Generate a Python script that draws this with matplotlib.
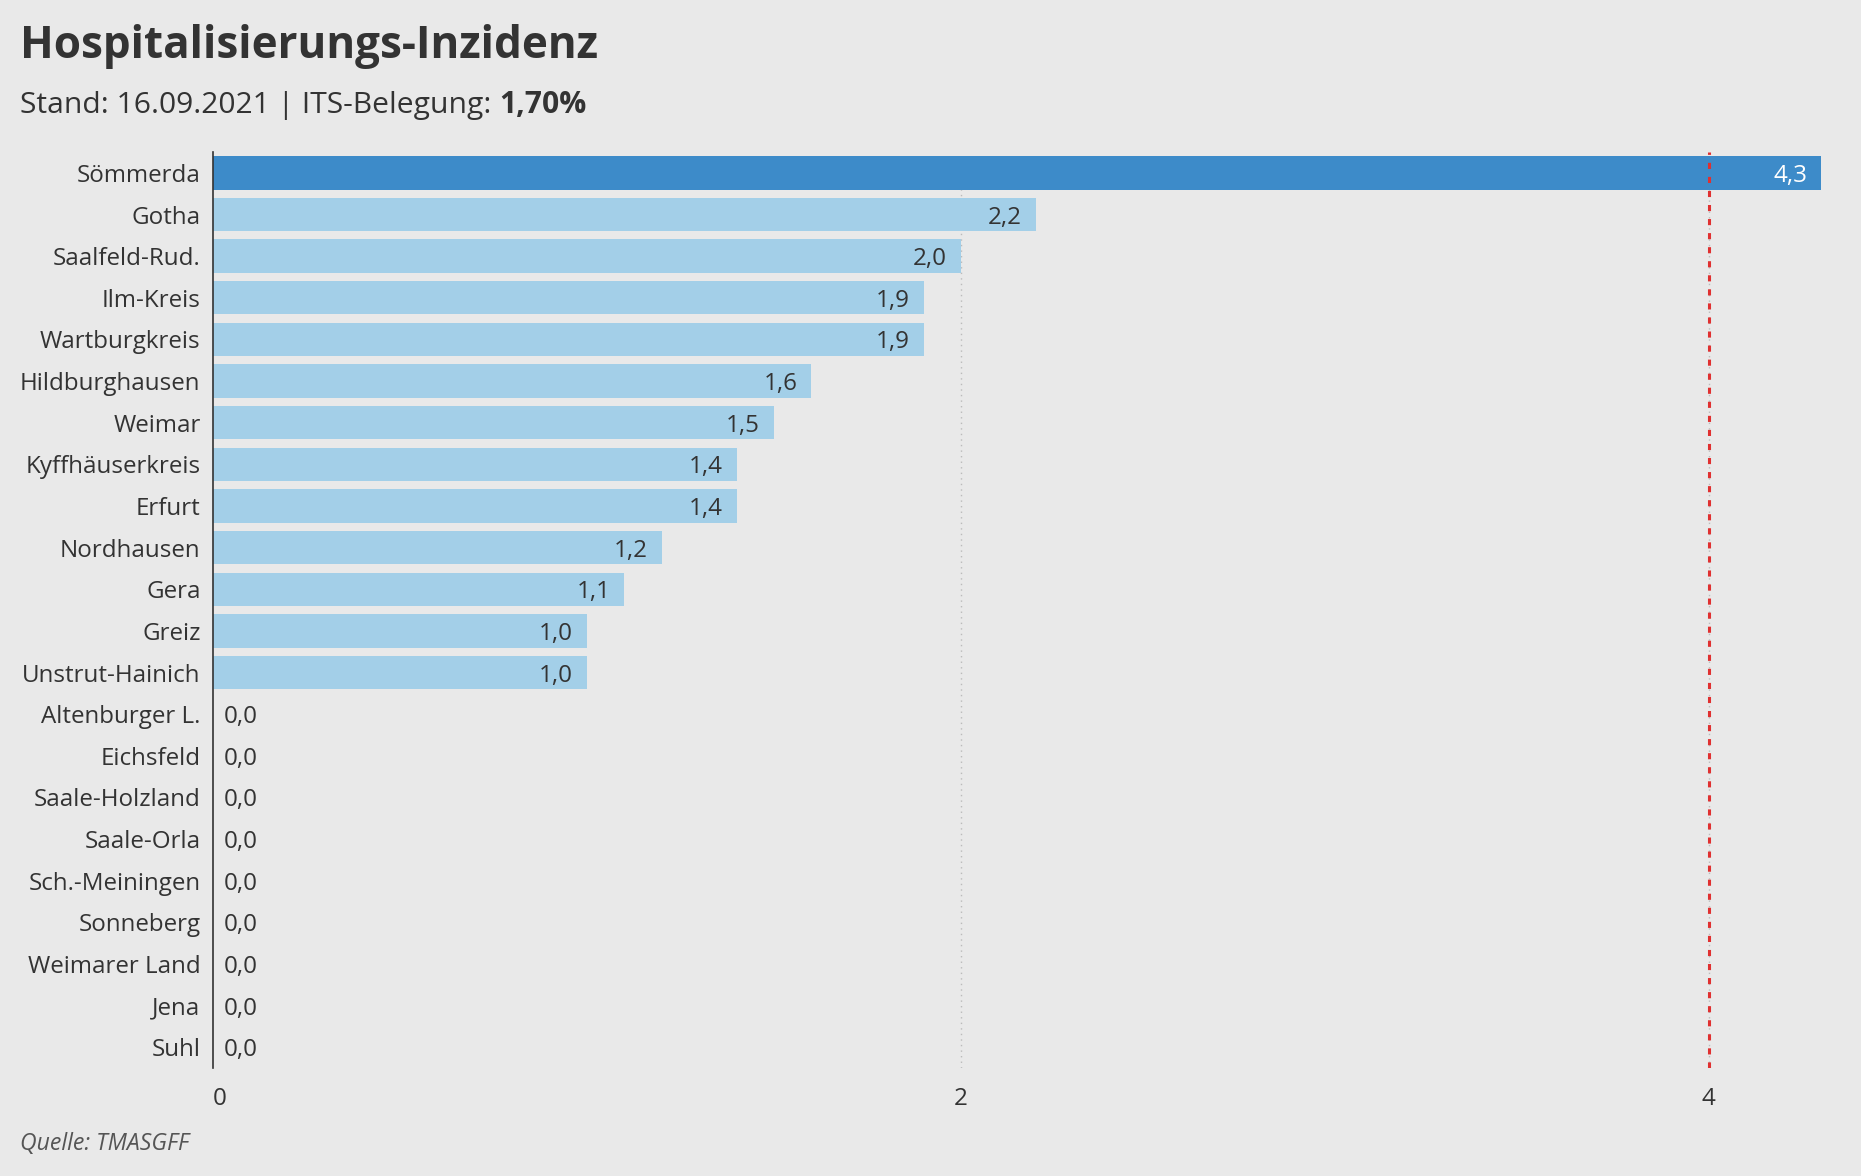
import matplotlib
matplotlib.use("Agg")
import matplotlib.pyplot as plt

plt.rcParams['font.family'] = ['Open Sans', 'DejaVu Sans']

kreise = ['Sömmerda', 'Gotha', 'Saalfeld-Rud.', 'Ilm-Kreis', 'Wartburgkreis',
          'Hildburghausen', 'Weimar', 'Kyffhäuserkreis', 'Erfurt', 'Nordhausen',
          'Gera', 'Greiz', 'Unstrut-Hainich', 'Altenburger L.', 'Eichsfeld',
          'Saale-Holzland', 'Saale-Orla', 'Sch.-Meiningen', 'Sonneberg',
          'Weimarer Land', 'Jena', 'Suhl']
inzidenz = [4.3, 2.2, 2.0, 1.9, 1.9, 1.6, 1.5, 1.4, 1.4, 1.2, 1.1, 1.0, 1.0,
            0.0, 0.0, 0.0, 0.0, 0.0, 0.0, 0.0, 0.0, 0.0]
highlight = 'Sömmerda'
schwelle = 4
xticks = [0, 2, 4]

bg = '#e9e9e9'
dark = '#3d8bc9'
light = '#a3cfe8'
txt = '#333333'

fig = plt.figure(figsize=(18.61, 11.76), dpi=100, facecolor=bg)
ax = fig.add_axes([0.1145, 0.0918, 0.864, 0.7789], facecolor=bg)

ypos = list(range(len(kreise)))
colors = [dark if k == highlight else light for k in kreise]
ax.barh(ypos, inzidenz, height=0.8, color=colors, zorder=2)

ax.set_ylim(len(kreise) - 0.5, -0.5)
ax.set_xlim(0, max(inzidenz))

ax.set_yticks(ypos)
ax.set_yticklabels(kreise, fontsize=17.4, color=txt)
ax.set_xticks(xticks)
ax.set_xticklabels([str(t) for t in xticks], fontsize=17.4, color=txt)
ax.get_xticklabels()[0].set_ha('left')
ax.tick_params(axis='both', length=0)
ax.tick_params(axis='y', pad=9)
ax.tick_params(axis='x', pad=14)

for s in ['top', 'right', 'bottom']:
    ax.spines[s].set_visible(False)
ax.spines['left'].set_color(txt)
ax.spines['left'].set_linewidth(1.2)
ax.spines['left'].set_zorder(4)

for t in xticks[1:]:
    ax.axvline(t, color='#bbbbbb', lw=1, ls=(0, (1, 3)), zorder=1)
ax.axvline(schwelle, color='#e03030', lw=2.2, ls=(0, (2, 2.6)), zorder=3)

for y, v, k in zip(ypos, inzidenz, kreise):
    lab = f'{v:.1f}'.replace('.', ',')
    if v > 0.3:
        ax.annotate(lab, (v, y), xytext=(-10, 0), textcoords='offset points',
                    ha='right', va='center_baseline', fontsize=17.4,
                    color='white' if k == highlight else txt, zorder=5)
    else:
        ax.annotate(lab, (v, y), xytext=(8, 0), textcoords='offset points',
                    ha='left', va='center_baseline', fontsize=17.4, color=txt,
                    zorder=5)

fig.text(0.0108, 0.951, 'Hospitalisierungs-Inzidenz', fontsize=31.7,
         fontweight='bold', color=txt, va='baseline')
sub = fig.text(0.0108, 0.904, 'Stand: 16.09.2021 | ITS-Belegung: ', fontsize=21.6,
               color=txt, va='baseline')
fig.canvas.draw()
bb = sub.get_window_extent()
fig.text(bb.x1 / fig.bbox.width, 0.904, '1,70%', fontsize=21.6, fontweight='bold',
         color=txt, va='baseline')

fig.text(0.0108, 0.022, 'Quelle: TMASGFF', fontsize=16.6, style='italic',
         color='#555555', va='baseline')

fig.savefig('out.png', dpi=100, facecolor=bg)
